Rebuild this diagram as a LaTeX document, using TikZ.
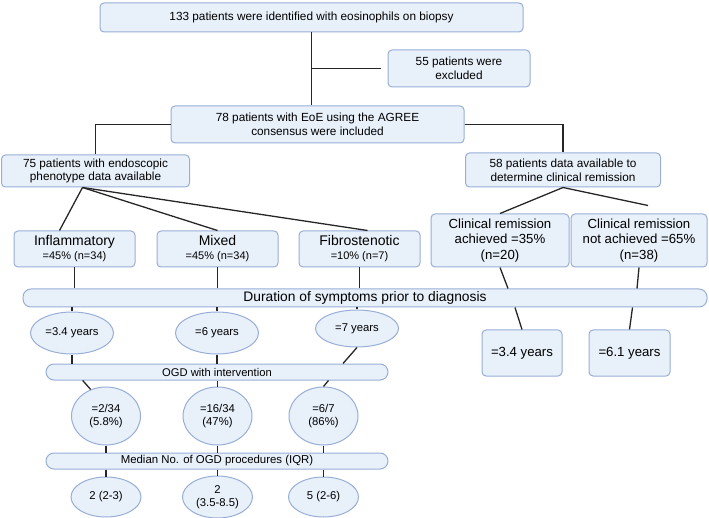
\documentclass[tikz,border=0pt]{standalone}
\usepackage{fontspec}
\setmainfont{Liberation Sans}
\usetikzlibrary{shapes.geometric}
\definecolor{boxfill}{HTML}{E8F0FA}
\definecolor{boxline}{HTML}{98AED6}
\definecolor{linkcol}{HTML}{262626}
\newcommand{\fsA}{\fontsize{11.8}{13.6}\selectfont}
\newcommand{\fsB}{\fontsize{14}{14}\selectfont}
\newcommand{\fsC}{\fontsize{11}{14}\selectfont}
\newcommand{\fsD}{\fontsize{13.2}{15.5}\selectfont}
\newcommand{\fsE}{\fontsize{11.3}{13}\selectfont}
\tikzset{
  box/.style={draw=boxline,fill=boxfill,line width=1pt,rounded corners=4pt,align=center,inner sep=0pt},
  pill/.style={box,rounded corners=8pt},
  oval/.style={draw=boxline,fill=boxfill,line width=1pt,ellipse,align=center,inner sep=0pt,font=\fsE},
  link/.style={draw=linkcol,line width=1.3pt},
}
\begin{document}
\begin{tikzpicture}[x=1pt,y=-1pt]
  \useasboundingbox (0,0) rectangle (709,518);
  % patient selection
  \node[box,minimum width=423pt,minimum height=29pt,font=\fsA] (biopsy) at (311.5,17.5) {133 patients were identified with eosinophils on biopsy};
  \node[box,minimum width=142pt,minimum height=37pt,font=\fsA] (excl) at (459,68.5) {55 patients were\\excluded};
  \node[box,minimum width=293pt,minimum height=37pt,font=\fsA] (agree) at (317.5,124.5) {78 patients with EoE using the AGREE\\consensus were included};
  \node[box,minimum width=188pt,minimum height=32pt,font=\fsA] (pheno) at (95.5,171) {75 patients with endoscopic\\phenotype data available};
  \node[box,minimum width=195pt,minimum height=34pt,font=\fsA] (remis) at (563,170) {58 patients data available to\\determine clinical remission};
  % phenotypes
  \foreach \n/\x/\a/\b in {infl/74.5/Inflammatory/=45\% (n=34), mixed/217.5/Mixed/=45\% (n=34), fibro/359.5/Fibrostenotic/=10\% (n=7)}
    \node[box,minimum width=121pt,minimum height=36pt,font=\fsC] (\n) at (\x,249) {{\fsB \a}\\\b};
  % remission
  \node[box,minimum width=138pt,minimum height=53pt,font=\fsD] (achieved) at (500,240.5) {Clinical remission\\achieved =35\%\\(n=20)};
  \node[box,minimum width=136pt,minimum height=53pt,font=\fsD] (notach) at (639,240.5) {Clinical remission\\not achieved =65\%\\(n=38)};
  \node[box,minimum width=80pt,minimum height=46pt,font=\fsD] (achyrs) at (522,353) {=3.4 years};
  \node[box,minimum width=81pt,minimum height=46pt,font=\fsD] (notachyrs) at (629.5,353) {=6.1 years};
  % bars
  \node[pill,minimum width=684pt,minimum height=18pt,font=\fontsize{13.8}{14}\selectfont] (durbar) at (365,298) {Duration of symptoms prior to diagnosis};
  \node[pill,minimum width=342pt,minimum height=16pt,font=\fontsize{11.2}{12}\selectfont] (ogdbar) at (217,372) {OGD with intervention};
  \node[pill,minimum width=342pt,minimum height=16pt,font=\fontsize{11.4}{12}\selectfont] (medbar) at (217,461) {Median No. of OGD procedures (IQR)};
  % ovals
  \foreach \n/\x/\y/\h/\t in {sympt1/72/333/42/=3.4 years, sympt2/217/333/42/=6 years, sympt3/357/328.5/37/=7 years}
    \node[oval,minimum width=83pt,minimum height=\h pt] (\n) at (\x,\y) {\t};
  \foreach \n/\x/\t in {interv1/106/{=2/34\\(5.8\%)}, interv2/217.5/{=16/34\\(47\%)}, interv3/323.5/{=6/7\\(86\%)}}
    \node[oval,minimum width=69pt,minimum height=58pt] (\n) at (\x,416) {\t};
  \foreach \n/\x/\h/\t in {proc1/106/40/2 (2-3), proc2/217.5/42/{2\\(3.5-8.5)}, proc3/323.5/40/5 (2-6)}
    \node[oval,minimum width=70pt,minimum height=\h pt] (\n) at (\x,497) {\t};
  % links
  \draw[link] (biopsy.south) -- (biopsy.south |- agree.north);
  \draw[link] (biopsy.south |- excl.west) -- ([xshift=-7pt]excl.west);
  \draw[link] (agree.west) -| (pheno.north);
  \draw[link] (agree.east) -| (remis.north);
  \foreach \t/\s in {infl/-15pt,mixed/0pt,fibro/8pt}
    \draw[link] ([xshift=-13pt]pheno.south) -- ([xshift=\s]\t.north);
  \draw[link] (remis.south) -- (achieved.north);
  \draw[link] (remis.south) -- ([xshift=9pt,yshift=8pt]notach.north);
  \foreach \a/\b in {infl/sympt1,mixed/sympt2,fibro/sympt3} {
    \draw[link] (\a.south) -- (\a.south |- durbar.north);
    \draw[link] (\b.north |- durbar.south) -- (\b.north);
  }
  \draw[link] (achieved.south) -- ([xshift=8pt]achieved.south |- durbar.north);
  \draw[link] ([xshift=-7pt]achyrs.north |- durbar.south) -- (achyrs.north);
  \draw[link] (notach.south) -- ([xshift=-2pt]notach.south |- durbar.north);
  \draw[link] ([xshift=3pt]notachyrs.north |- durbar.south) -- (notachyrs.north);
  \draw[link] (sympt1.south) -- (sympt1.south |- ogdbar.north);
  \draw[link] (sympt2.south) -- (sympt2.south |- ogdbar.north);
  \draw[link] (sympt3.south) -- ([xshift=-14pt]sympt3.south |- ogdbar.north);
  \draw[link] (interv1.120) -- ([xshift=-8pt]interv1.120 |- ogdbar.south);
  \draw[link] (interv2.north) -- (interv2.north |- ogdbar.south);
  \draw[link] (interv3.north) -- ([xshift=5pt]interv3.north |- ogdbar.south);
  \foreach \a/\b in {interv1/proc1,interv2/proc2,interv3/proc3} {
    \draw[link] (\a.south) -- (\a.south |- medbar.north);
    \draw[link] (\b.north |- medbar.south) -- (\b.north);
  }
\end{tikzpicture}
\end{document}
